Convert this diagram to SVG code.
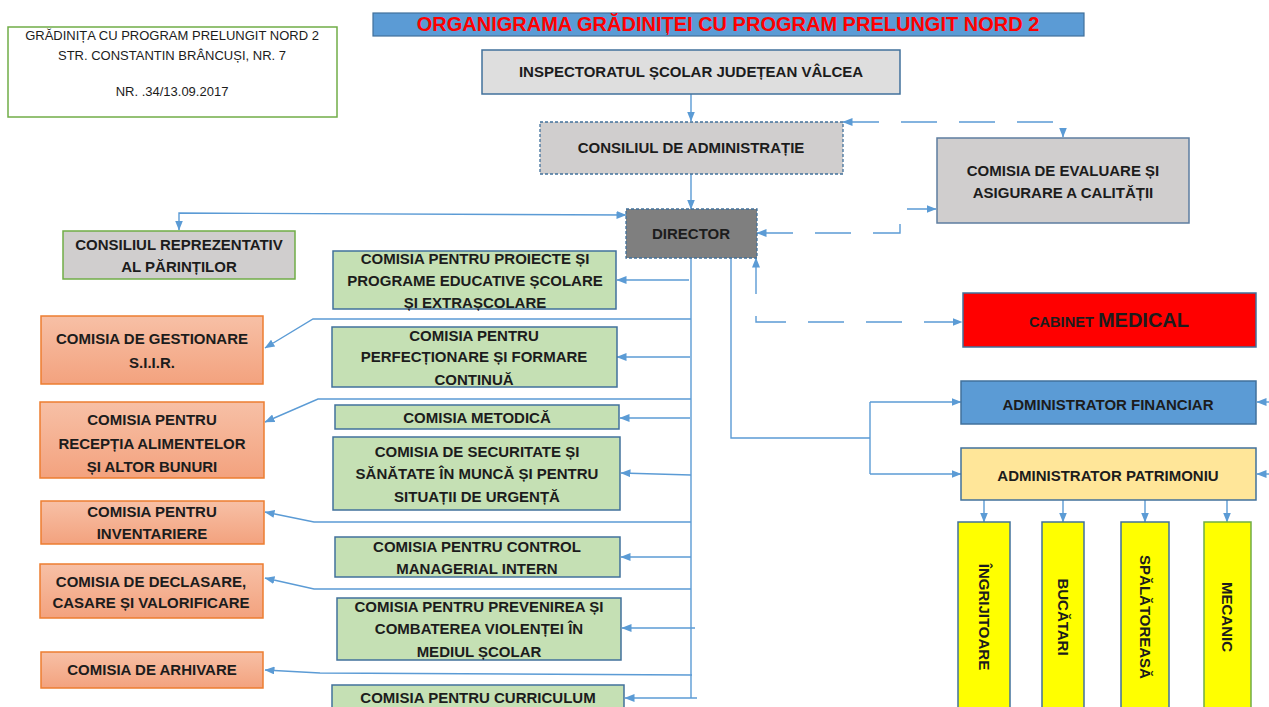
<svg xmlns="http://www.w3.org/2000/svg" width="1269" height="707" viewBox="0 0 1269 707">
<style>
text{font-family:"Liberation Sans",Arial,sans-serif;font-weight:bold;font-size:15px;fill:#1c1c1c;text-anchor:middle}
.hdr{font-weight:normal;font-size:13px}
.title{font-size:20px;fill:#FF0000}
.vert{dominant-baseline:central}
.green{fill:#C5E0B4;stroke:#41719C;stroke-width:1.5}
.orange{fill:url(#og);stroke:#ED7D31;stroke-width:1.5}
.yel{fill:#FFFF00;stroke:#41719C;stroke-width:1.5}
.conn path{fill:none;stroke:#5B9BD5;stroke-width:1.4}
.conn .dash{stroke-dasharray:36 22}
.ar{marker-end:url(#ah)}
.ar2{marker-start:url(#ah);marker-end:url(#ah)}
</style>
<defs>
<linearGradient id="og" x1="0" y1="0" x2="0" y2="1">
<stop offset="0" stop-color="#F7C0A6"/>
<stop offset="1" stop-color="#F3A27E"/>
</linearGradient>
<marker id="ah" markerUnits="userSpaceOnUse" markerWidth="10" markerHeight="8" refX="9.5" refY="4" orient="auto-start-reverse">
<path d="M0,0 L10,4 L0,8 z" fill="#5B9BD5"/>
</marker>
</defs>
<rect width="1269" height="707" fill="#FFFFFF"/>

<g id="header">
<rect x="8" y="27" width="329" height="90" fill="#FFFFFF" stroke="#70AD47" stroke-width="1.5"/>
<text class="hdr" x="172" y="39.5">GRĂDINIȚA CU PROGRAM PRELUNGIT NORD 2</text>
<text class="hdr" x="172" y="59.5">STR. CONSTANTIN BRÂNCUȘI, NR. 7</text>
<text class="hdr" x="172" y="95.5">NR. .34/13.09.2017</text>
</g>

<g id="title">
<rect x="373" y="13" width="711" height="23" fill="#5B9BD5" stroke="#41719C" stroke-width="1.2"/>
<text class="title" x="728" y="31">ORGANIGRAMA GRĂDINIȚEI CU PROGRAM PRELUNGIT NORD 2</text>
</g>

<g class="conn" id="connectors">
<path class="ar" d="M691,94 V121"/>
<path class="ar" d="M691,174 V209"/>
<path class="ar2" d="M626,215 L179,213 V230"/>
<path class="ar2 dash" d="M843,122 H1063 V137"/>
<path class="ar2 dash" d="M757,233 H900 V209 H936"/>
<path class="ar2 dash" d="M756,258 V322 H962"/>
<path d="M731,258 V438 H870"/>
<path d="M870,402 V474"/>
<path class="ar" d="M870,402 H961"/>
<path class="ar" d="M870,474 H961"/>
<path d="M691,258 V698"/>
<path class="ar" d="M689,280 H617"/>
<path class="ar" d="M690,357 H617"/>
<path class="ar" d="M690,418 H620"/>
<path class="ar" d="M691,475 L621,473"/>
<path class="ar" d="M691,557 H621"/>
<path class="ar" d="M695,628 H622"/>
<path class="ar" d="M697,698 H625"/>
<path class="ar" d="M691,319 H313 L265,348"/>
<path class="ar" d="M691,399 H318 L265,422"/>
<path class="ar" d="M691,522 H314 L265,512"/>
<path class="ar" d="M691,589 H314 L265,578"/>
<path class="ar" d="M692,675 L320,673 L265,670"/>
<path class="ar" d="M1269,402 H1257"/>
<path class="ar" d="M1269,474 H1257"/>
<path class="ar" d="M984,500 V522"/>
<path class="ar" d="M1063,500 V522"/>
<path class="ar" d="M1145,500 V522"/>
<path class="ar" d="M1227,500 V522"/>
</g>

<g id="isj">
<rect x="482" y="50" width="418" height="44" fill="#DEDEDE" stroke="#41719C" stroke-width="1.5"/>
<text x="691" y="77">INSPECTORATUL ȘCOLAR JUDEȚEAN VÂLCEA</text>
</g>

<g id="consiliul-administratie">
<rect x="540" y="122" width="303" height="52" fill="#D0CECE" stroke="#41719C" stroke-width="1.3" stroke-dasharray="3 2"/>
<text x="691" y="153">CONSILIUL DE ADMINISTRAȚIE</text>
</g>

<g id="director">
<rect x="626" y="209" width="131" height="49" fill="#7F7F7F" stroke="#41719C" stroke-width="1.3" stroke-dasharray="3 2"/>
<text x="691" y="239">DIRECTOR</text>
</g>

<g id="comisia-evaluare">
<rect x="937" y="138" width="252" height="85" fill="#D0CECE" stroke="#5E7DA0" stroke-width="1.5"/>
<text x="1063" y="176">COMISIA DE EVALUARE ȘI</text>
<text x="1063" y="198">ASIGURARE A CALITĂȚII</text>
</g>

<g id="consiliul-parinti">
<rect x="63" y="231" width="232" height="48" fill="#D0CECE" stroke="#70AD47" stroke-width="1.5"/>
<text x="179" y="250">CONSILIUL REPREZENTATIV</text>
<text x="179" y="272">AL PĂRINȚILOR</text>
</g>

<g id="cabinet-medical">
<rect x="963" y="293" width="293" height="54" fill="#FF0000" stroke="#41719C" stroke-width="1.5"/>
<text x="1109" y="327"><tspan font-size="14.6">CABINET </tspan><tspan font-size="20">MEDICAL</tspan></text>
</g>

<g id="admin-financiar">
<rect x="961" y="381" width="295" height="43" fill="#5B9BD5" stroke="#41719C" stroke-width="1.5"/>
<text x="1108" y="410">ADMINISTRATOR  FINANCIAR</text>
</g>

<g id="admin-patrimoniu">
<rect x="961" y="448" width="295" height="52" fill="#FFE699" stroke="#41719C" stroke-width="1.5"/>
<text x="1108" y="481" font-size="15.5">ADMINISTRATOR PATRIMONIU</text>
</g>

<g id="ingrijitoare">
<rect class="yel" x="958" y="522" width="52" height="190"/>
<text class="vert" transform="translate(984,617) rotate(90)">ÎNGRIJITOARE</text>
</g>
<g id="bucatari">
<rect class="yel" x="1042" y="522" width="42" height="190"/>
<text class="vert" transform="translate(1063,617) rotate(90)">BUCĂTARI</text>
</g>
<g id="spalatoreasa">
<rect class="yel" x="1121" y="522" width="48" height="190"/>
<text class="vert" transform="translate(1145,617) rotate(90)">SPĂLĂTOREASĂ</text>
</g>
<g id="mecanic">
<rect class="yel" x="1204" y="522" width="47" height="190" style="stroke:#70AD47"/>
<text class="vert" transform="translate(1227,617) rotate(90)">MECANIC</text>
</g>

<g id="comisia-proiecte">
<rect class="green" x="333" y="251" width="283" height="58"/>
<text x="475" y="264">COMISIA PENTRU PROIECTE ȘI</text>
<text x="475" y="286">PROGRAME EDUCATIVE ȘCOLARE</text>
<text x="475" y="308">ȘI EXTRAȘCOLARE</text>
</g>
<g id="comisia-perfectionare">
<rect class="green" x="332" y="327" width="285" height="60"/>
<text x="474" y="341">COMISIA PENTRU</text>
<text x="474" y="362">PERFECȚIONARE ȘI FORMARE</text>
<text x="474" y="385">CONTINUĂ</text>
</g>
<g id="comisia-metodica">
<rect class="green" x="335" y="405" width="284" height="24"/>
<text x="477" y="423">COMISIA METODICĂ</text>
</g>
<g id="comisia-securitate">
<rect class="green" x="333" y="437" width="287" height="73"/>
<text x="477" y="457">COMISIA DE SECURITATE ȘI</text>
<text x="477" y="479">SĂNĂTATE ÎN MUNCĂ ȘI PENTRU</text>
<text x="477" y="502">SITUAȚII DE URGENȚĂ</text>
</g>
<g id="comisia-control">
<rect class="green" x="335" y="537" width="285" height="40"/>
<text x="477" y="552">COMISIA PENTRU CONTROL</text>
<text x="477" y="574">MANAGERIAL INTERN</text>
</g>
<g id="comisia-prevenire">
<rect class="green" x="337" y="598" width="284" height="62"/>
<text x="479" y="612">COMISIA PENTRU PREVENIREA ȘI</text>
<text x="479" y="634">COMBATEREA VIOLENȚEI ÎN</text>
<text x="479" y="657">MEDIUL ȘCOLAR</text>
</g>
<g id="comisia-curriculum">
<rect class="green" x="332" y="685" width="292" height="30"/>
<text x="478" y="703">COMISIA PENTRU CURRICULUM</text>
</g>

<g id="comisia-siir">
<rect class="orange" x="41" y="316" width="222" height="68"/>
<text x="152" y="344">COMISIA DE GESTIONARE</text>
<text x="152" y="368">S.I.I.R.</text>
</g>
<g id="comisia-receptie">
<rect class="orange" x="40" y="402" width="224" height="76"/>
<text x="152" y="425">COMISIA  PENTRU</text>
<text x="152" y="449">RECEPȚIA ALIMENTELOR</text>
<text x="152" y="472">ȘI ALTOR BUNURI</text>
</g>
<g id="comisia-inventariere">
<rect class="orange" x="41" y="501" width="223" height="43"/>
<text x="152" y="517">COMISIA PENTRU</text>
<text x="152" y="539">INVENTARIERE</text>
</g>
<g id="comisia-declasare">
<rect class="orange" x="40" y="564" width="223" height="54"/>
<text x="151" y="587">COMISIA DE DECLASARE,</text>
<text x="151" y="608">CASARE ȘI VALORIFICARE</text>
</g>
<g id="comisia-arhivare">
<rect class="orange" x="41" y="652" width="222" height="36"/>
<text x="152" y="675">COMISIA DE ARHIVARE</text>
</g>
</svg>
